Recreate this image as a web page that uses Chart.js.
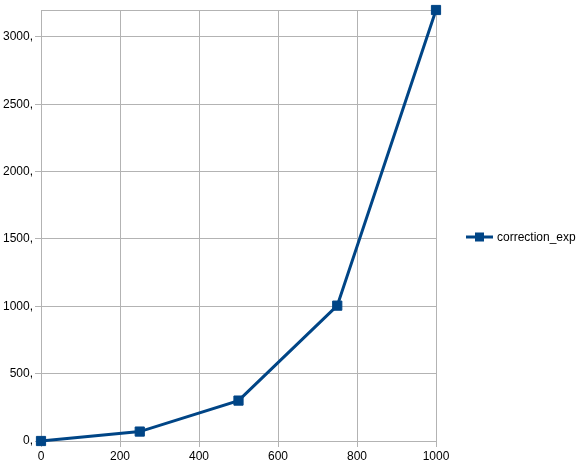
<!DOCTYPE html>
<html>
<head>
<meta charset="utf-8">
<script src="https://cdn.jsdelivr.net/npm/chart.js@4/dist/chart.umd.min.js"></script>
<style>
  html, body { margin: 0; padding: 0; background: #fff; }
  #wrap { width: 580px; height: 472px; }
</style>
</head>
<body>
<div id="wrap"><canvas id="chart"></canvas></div>
<script>
// values
const xValues = [0, 250, 500, 750, 1000];
const correctionExp = [0, 70, 300, 1005, 3200];
const xTicks = [0, 200, 400, 600, 800, 1000];
const yTicks = [0, 500, 1000, 1500, 2000, 2500, 3000, 3200];
const seriesName = 'correction_exp';
const lineColor = '#004586';

// legend drawn by hand: line with a square marker, like the reference
const sideLegend = {
  id: 'sideLegend',
  afterDraw(chart) {
    const ctx = chart.ctx;
    const y = 237;
    ctx.save();
    ctx.strokeStyle = lineColor;
    ctx.lineWidth = 3;
    ctx.beginPath();
    ctx.moveTo(466, y);
    ctx.lineTo(493, y);
    ctx.stroke();
    ctx.fillStyle = lineColor;
    ctx.fillRect(475, y - 4.5, 9, 9);
    ctx.fillStyle = '#000';
    ctx.font = '12px "Liberation Sans", Arial, sans-serif';
    ctx.textBaseline = 'middle';
    ctx.fillText(seriesName, 497, y + 1);
    ctx.restore();
  }
};

const ctx = document.getElementById('chart').getContext('2d');
new Chart(ctx, {
  type: 'line',
  data: {
    datasets: [{
      label: seriesName,
      data: xValues.map((x, i) => ({ x: x, y: correctionExp[i] })),
      borderColor: lineColor,
      backgroundColor: lineColor,
      borderWidth: 3,
      pointStyle: 'rect',
      pointRadius: 6.5,
      pointBorderWidth: 1,
      pointBackgroundColor: lineColor,
      pointBorderColor: lineColor,
      tension: 0,
      clip: false
    }]
  },
  options: {
    responsive: true,
    maintainAspectRatio: false,
    animation: false,
    layout: { padding: { top: 10, right: 144, left: 0, bottom: 0 } },
    plugins: {
      legend: { display: false },
      tooltip: { enabled: false }
    },
    scales: {
      x: {
        type: 'linear',
        min: 0,
        max: 1000,
        afterBuildTicks(scale) { scale.ticks = xTicks.map(v => ({ value: v })); },
        grid: { color: '#b3b3b3', tickLength: 6, tickColor: '#b3b3b3' },
        border: { color: '#b3b3b3' },
        ticks: {
          color: '#000',
          padding: 2,
          maxRotation: 0,
          autoSkip: false,
          font: { family: '"Liberation Sans", Arial, sans-serif', size: 12 },
          callback: v => String(v)
        },
        afterFit(scale) { scale.height = 31; }
      },
      y: {
        min: 0,
        max: 3200,
        afterBuildTicks(scale) { scale.ticks = yTicks.map(v => ({ value: v })); },
        grid: {
          color: '#b3b3b3',
          tickLength: 6,
          tickColor: c => (c.tick && c.tick.value % 500 !== 0 ? 'rgba(0,0,0,0)' : '#b3b3b3')
        },
        border: { color: '#b3b3b3' },
        ticks: {
          color: '#000',
          padding: 2,
          autoSkip: false,
          font: { family: '"Liberation Sans", Arial, sans-serif', size: 12 },
          callback: v => (v % 500 === 0 ? v + ',' : '')
        },
        afterFit(scale) { scale.width = 41; }
      }
    }
  },
  plugins: [sideLegend]
});
</script>
</body>
</html>
